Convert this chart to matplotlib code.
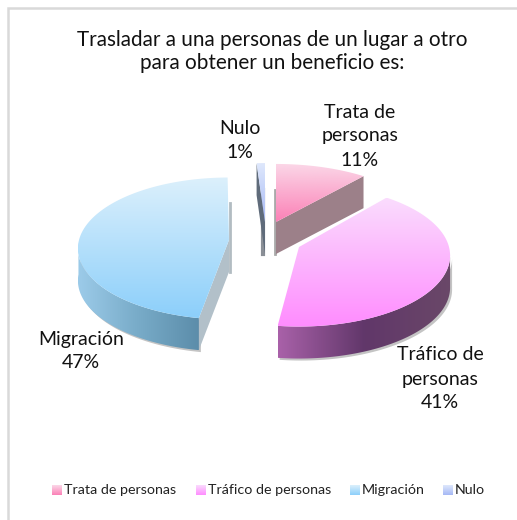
import numpy as np
import matplotlib
matplotlib.use('Agg')
import matplotlib.pyplot as plt
from matplotlib.colors import LinearSegmentedColormap
from matplotlib.patches import Polygon

categories = ['Trata de personas', 'Tráfico de personas', 'Migración', 'Nulo']
values = [11, 41, 47, 1]
title_lines = ['Trasladar a una personas de un lugar a otro', 'para obtener un beneficio es:']

plt.rcParams['font.family'] = ['Lato', 'DejaVu Sans']

# apex of each exploded slice in pixels, then its far-side squash
apex = [(276, 222), (299, 247), (229, 240), (265, 222)]
squash = [65, 70, 70, 66]
turn = [0, 0, 3, 0]  # the 3d view pushes the slices round a little
radius = 150
depth = 32
persp = 0.12

top_colors = [('#fbd8e8', '#fb80b6'), ('#fadcfd', '#ff8cff'), ('#dcf0fc', '#8ccffa'), ('#dfe8fc', '#a5b8f5')]
side_colors = [None, ('#a961a9', '#61376a', '#6a4868'), ('#9ccbe9', '#78abc8', '#5c8daa'), None]
wall_colors = ['#9c8089', None, '#b2c0c9', '#5f6b7a']
legend_x = [52, 196, 350, 443]

fig = plt.figure(figsize=(5.17, 5.20), dpi=100)
ax = fig.add_axes([0, 0, 1, 1])
ax.set_xlim(0, 517)
ax.set_ylim(520, 0)
ax.axis('off')


def ring(i, deg):
    t = np.radians(np.asarray(deg, dtype=float))
    p = 1 / (1 + persp * np.cos(t))
    return apex[i][0] + radius * np.sin(t) * p, apex[i][1] - squash[i] * np.cos(t) * p


def fill(pts, colors, horizontal=False, z=2):
    pts = np.asarray(pts)
    patch = Polygon(pts, closed=True, fc='none', ec='none', zorder=z)
    ax.add_patch(patch)
    cmap = LinearSegmentedColormap.from_list('c', colors)
    grad = np.linspace(0, 1, 256)
    grad = grad.reshape(1, -1) if horizontal else grad.reshape(-1, 1)
    x0, x1, y0, y1 = pts[:, 0].min(), pts[:, 0].max(), pts[:, 1].min(), pts[:, 1].max()
    im = ax.imshow(grad, cmap=cmap, extent=(x0, x1, y1, y0), aspect='auto', zorder=z, interpolation='bilinear')
    im.set_clip_path(patch)


def wall(i, deg, color, z):
    x, y = ring(i, deg)
    ax_, ay_ = apex[i]
    pts = [(ax_, ay_), (x, y), (x, y + depth), (ax_, ay_ + depth)]
    ax.add_patch(Polygon(pts, closed=True, fc=color, ec='none', zorder=z))


edges = np.concatenate([[0], np.cumsum(values)]) * 3.6

for i in range(len(values)):
    a0, a1 = edges[i] + turn[i], edges[i + 1] + turn[i]
    arc = np.linspace(a0, a1, 120)
    x, y = ring(i, arc)

    # walls of the cut faces
    if i == 0:
        wall(i, a1, wall_colors[i], 3)
        ax.plot([apex[i][0] - 1, apex[i][0] - 1], [apex[i][1] - 32, apex[i][1] + depth], color='#a9a9a9', lw=2, zorder=2)
    elif i == 2:
        wall(i, a0, wall_colors[i], 3)
        ax.plot([apex[i][0] + 1, apex[i][0] + 1], [apex[i][1] - 37, apex[i][1] + depth], color='#b2bcc2', lw=2, zorder=2)
    elif i == 3:
        wall(i, a0, wall_colors[i], 3)
        ax.plot([apex[i][0] - 2, apex[i][0] - 2], [apex[i][1] - 32, apex[i][1] + depth], color='#8a8f96', lw=3, zorder=2)

    # outer rim, only the part that faces the viewer
    if side_colors[i] is not None:
        if i == 1:
            vis = np.linspace(96, a1, 120)
        else:
            vis = np.linspace(a0, 268, 120)
        sx, sy = ring(i, vis)
        pts = np.column_stack([np.r_[sx, sx[::-1]], np.r_[sy, sy[::-1] + depth]])
        ax.add_patch(Polygon(pts + [2, 2], closed=True, fc='#c4c4c4', ec='none', zorder=2))
        cols = side_colors[i]
        fill(pts, cols, horizontal=True, z=3)

    # top face
    pts = np.column_stack([np.r_[apex[i][0], x], np.r_[apex[i][1], y]])
    fill(pts, top_colors[i], z=4)

ax.set_xlim(0, 517)
ax.set_ylim(520, 0)

# chart area edge, only left and top show
ax.plot([8, 8, 517], [520, 8, 8], color='#d9d9d9', lw=1.8, zorder=1, solid_joinstyle='miter')

# title
ax.text(272, 40, title_lines[0], fontsize=14.9, ha='center', va='center', color='#111111')
ax.text(272, 63, title_lines[1], fontsize=14.9, ha='center', va='center', color='#111111')

# data labels
label_pos = [(360, 136), (440, 379), (81, 351), (240, 141)]
label_txt = ['Trata de\npersonas\n%d%%' % values[0], 'Tráfico de\npersonas\n%d%%' % values[1],
             '%s\n%d%%' % (categories[2], values[2]), '%s\n%d%%' % (categories[3], values[3])]
for (lx, ly), t in zip(label_pos, label_txt):
    ax.text(lx, ly, t, fontsize=14, ha='center', va='center', linespacing=1.5, color='#111111', zorder=6)

# legend
for i, name in enumerate(categories):
    lx = legend_x[i]
    fill([(lx, 485), (lx + 10, 485), (lx + 10, 495), (lx, 495)], top_colors[i], z=5)
    ax.text(lx + 12, 490, name, fontsize=10.3, ha='left', va='center', color='#222222')

ax.set_xlim(0, 517)
ax.set_ylim(520, 0)
fig.savefig('out.png', dpi=100, facecolor='white')
